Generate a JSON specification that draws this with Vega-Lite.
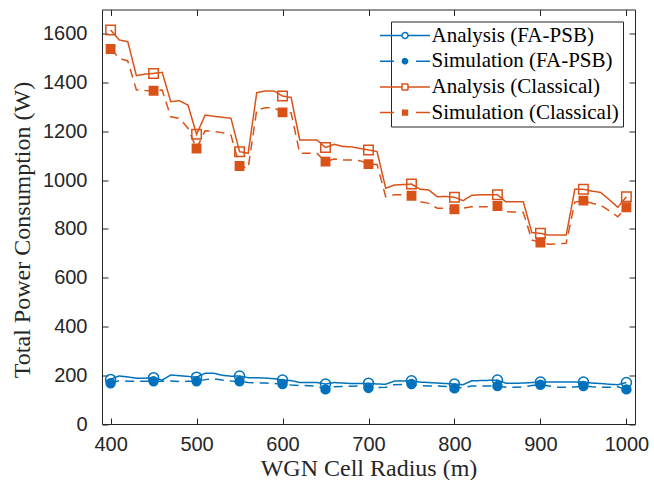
{
  "$schema": "https://vega.github.io/schema/vega-lite/v6.json",
  "width": 533,
  "height": 414.5,
  "autosize": {"type": "none"},
  "padding": {"left": 102, "top": 9.5, "right": 19, "bottom": 56},
  "background": "white",
  "config": {
    "view": {"stroke": "#262626", "strokeWidth": 1},
    "axis": {
      "grid": false,
      "domain": false,
      "tickColor": "#262626",
      "tickSize": -6,
      "tickWidth": 1,
      "labelFont": "Liberation Sans",
      "labelFontSize": 20,
      "labelColor": "#262626",
      "titleFont": "Liberation Serif",
      "titleFontSize": 24,
      "titleFontWeight": "normal",
      "titleColor": "#262626"
    },
    "legend": {
      "labelFont": "Liberation Serif",
      "labelFontSize": 21,
      "labelColor": "#000000",
      "strokeColor": "#262626",
      "fillColor": "white",
      "padding": 3.5,
      "rowPadding": 3.7,
      "symbolSize": 64,
      "labelOffset": 16,
      "labelLimit": 400
    }
  },
  "data": {
    "values": [
      {"r": 400, "Analysis (FA-PSB)": 183, "Simulation (FA-PSB)": 167, "Analysis (Classical)": 1616, "Simulation (Classical)": 1538},
      {"r": 410, "Analysis (FA-PSB)": 197, "Simulation (FA-PSB)": 178, "Analysis (Classical)": 1575, "Simulation (Classical)": 1500},
      {"r": 420, "Analysis (FA-PSB)": 193, "Simulation (FA-PSB)": 175, "Analysis (Classical)": 1568, "Simulation (Classical)": 1489},
      {"r": 430, "Analysis (FA-PSB)": 188, "Simulation (FA-PSB)": 175, "Analysis (Classical)": 1429, "Simulation (Classical)": 1370},
      {"r": 440, "Analysis (FA-PSB)": 188, "Simulation (FA-PSB)": 175, "Analysis (Classical)": 1435, "Simulation (Classical)": 1368},
      {"r": 450, "Analysis (FA-PSB)": 190, "Simulation (FA-PSB)": 175, "Analysis (Classical)": 1438, "Simulation (Classical)": 1367},
      {"r": 460, "Analysis (FA-PSB)": 180, "Simulation (FA-PSB)": 175, "Analysis (Classical)": 1442, "Simulation (Classical)": 1370},
      {"r": 470, "Analysis (FA-PSB)": 201, "Simulation (FA-PSB)": 176, "Analysis (Classical)": 1322, "Simulation (Classical)": 1260},
      {"r": 480, "Analysis (FA-PSB)": 198, "Simulation (FA-PSB)": 174, "Analysis (Classical)": 1326, "Simulation (Classical)": 1254},
      {"r": 490, "Analysis (FA-PSB)": 195, "Simulation (FA-PSB)": 175, "Analysis (Classical)": 1308, "Simulation (Classical)": 1213},
      {"r": 500, "Analysis (FA-PSB)": 192, "Simulation (FA-PSB)": 175, "Analysis (Classical)": 1188, "Simulation (Classical)": 1130},
      {"r": 510, "Analysis (FA-PSB)": 208, "Simulation (FA-PSB)": 182, "Analysis (Classical)": 1267, "Simulation (Classical)": 1203},
      {"r": 520, "Analysis (FA-PSB)": 208, "Simulation (FA-PSB)": 185, "Analysis (Classical)": 1262, "Simulation (Classical)": 1200},
      {"r": 530, "Analysis (FA-PSB)": 200, "Simulation (FA-PSB)": 180, "Analysis (Classical)": 1258, "Simulation (Classical)": 1195},
      {"r": 540, "Analysis (FA-PSB)": 196, "Simulation (FA-PSB)": 176, "Analysis (Classical)": 1254, "Simulation (Classical)": 1185},
      {"r": 550, "Analysis (FA-PSB)": 197, "Simulation (FA-PSB)": 175, "Analysis (Classical)": 1117, "Simulation (Classical)": 1058},
      {"r": 560, "Analysis (FA-PSB)": 190, "Simulation (FA-PSB)": 170, "Analysis (Classical)": 1110, "Simulation (Classical)": 1049},
      {"r": 570, "Analysis (FA-PSB)": 190, "Simulation (FA-PSB)": 168, "Analysis (Classical)": 1359, "Simulation (Classical)": 1288},
      {"r": 580, "Analysis (FA-PSB)": 188, "Simulation (FA-PSB)": 168, "Analysis (Classical)": 1366, "Simulation (Classical)": 1297},
      {"r": 590, "Analysis (FA-PSB)": 186, "Simulation (FA-PSB)": 166, "Analysis (Classical)": 1366, "Simulation (Classical)": 1297},
      {"r": 600, "Analysis (FA-PSB)": 180, "Simulation (FA-PSB)": 164, "Analysis (Classical)": 1345, "Simulation (Classical)": 1278},
      {"r": 610, "Analysis (FA-PSB)": 178, "Simulation (FA-PSB)": 160, "Analysis (Classical)": 1339, "Simulation (Classical)": 1276},
      {"r": 620, "Analysis (FA-PSB)": 170, "Simulation (FA-PSB)": 158, "Analysis (Classical)": 1165, "Simulation (Classical)": 1110},
      {"r": 630, "Analysis (FA-PSB)": 170, "Simulation (FA-PSB)": 157, "Analysis (Classical)": 1165, "Simulation (Classical)": 1110},
      {"r": 640, "Analysis (FA-PSB)": 170, "Simulation (FA-PSB)": 155, "Analysis (Classical)": 1165, "Simulation (Classical)": 1110},
      {"r": 650, "Analysis (FA-PSB)": 164, "Simulation (FA-PSB)": 142, "Analysis (Classical)": 1134, "Simulation (Classical)": 1076},
      {"r": 660, "Analysis (FA-PSB)": 170, "Simulation (FA-PSB)": 153, "Analysis (Classical)": 1147, "Simulation (Classical)": 1087},
      {"r": 670, "Analysis (FA-PSB)": 168, "Simulation (FA-PSB)": 154, "Analysis (Classical)": 1138, "Simulation (Classical)": 1083},
      {"r": 680, "Analysis (FA-PSB)": 166, "Simulation (FA-PSB)": 155, "Analysis (Classical)": 1137, "Simulation (Classical)": 1083},
      {"r": 690, "Analysis (FA-PSB)": 166, "Simulation (FA-PSB)": 156, "Analysis (Classical)": 1130, "Simulation (Classical)": 1080},
      {"r": 700, "Analysis (FA-PSB)": 167, "Simulation (FA-PSB)": 148, "Analysis (Classical)": 1124, "Simulation (Classical)": 1066},
      {"r": 710, "Analysis (FA-PSB)": 164, "Simulation (FA-PSB)": 149, "Analysis (Classical)": 1117, "Simulation (Classical)": 1064},
      {"r": 720, "Analysis (FA-PSB)": 163, "Simulation (FA-PSB)": 151, "Analysis (Classical)": 967, "Simulation (Classical)": 932},
      {"r": 730, "Analysis (FA-PSB)": 176, "Simulation (FA-PSB)": 161, "Analysis (Classical)": 980, "Simulation (Classical)": 940},
      {"r": 740, "Analysis (FA-PSB)": 176, "Simulation (FA-PSB)": 162, "Analysis (Classical)": 982, "Simulation (Classical)": 940},
      {"r": 750, "Analysis (FA-PSB)": 177, "Simulation (FA-PSB)": 164, "Analysis (Classical)": 984, "Simulation (Classical)": 936},
      {"r": 760, "Analysis (FA-PSB)": 172, "Simulation (FA-PSB)": 158, "Analysis (Classical)": 963, "Simulation (Classical)": 912},
      {"r": 770, "Analysis (FA-PSB)": 170, "Simulation (FA-PSB)": 156, "Analysis (Classical)": 960, "Simulation (Classical)": 905},
      {"r": 780, "Analysis (FA-PSB)": 168, "Simulation (FA-PSB)": 156, "Analysis (Classical)": 932, "Simulation (Classical)": 885},
      {"r": 790, "Analysis (FA-PSB)": 166, "Simulation (FA-PSB)": 154, "Analysis (Classical)": 933, "Simulation (Classical)": 885},
      {"r": 800, "Analysis (FA-PSB)": 164, "Simulation (FA-PSB)": 146, "Analysis (Classical)": 930, "Simulation (Classical)": 881},
      {"r": 810, "Analysis (FA-PSB)": 161, "Simulation (FA-PSB)": 150, "Analysis (Classical)": 916, "Simulation (Classical)": 885},
      {"r": 820, "Analysis (FA-PSB)": 177, "Simulation (FA-PSB)": 156, "Analysis (Classical)": 938, "Simulation (Classical)": 891},
      {"r": 830, "Analysis (FA-PSB)": 178, "Simulation (FA-PSB)": 156, "Analysis (Classical)": 940, "Simulation (Classical)": 891},
      {"r": 840, "Analysis (FA-PSB)": 179, "Simulation (FA-PSB)": 156, "Analysis (Classical)": 940, "Simulation (Classical)": 891},
      {"r": 850, "Analysis (FA-PSB)": 180, "Simulation (FA-PSB)": 156, "Analysis (Classical)": 940, "Simulation (Classical)": 894},
      {"r": 860, "Analysis (FA-PSB)": 167, "Simulation (FA-PSB)": 151, "Analysis (Classical)": 911, "Simulation (Classical)": 871},
      {"r": 870, "Analysis (FA-PSB)": 167, "Simulation (FA-PSB)": 151, "Analysis (Classical)": 912, "Simulation (Classical)": 869},
      {"r": 880, "Analysis (FA-PSB)": 168, "Simulation (FA-PSB)": 152, "Analysis (Classical)": 912, "Simulation (Classical)": 868},
      {"r": 890, "Analysis (FA-PSB)": 170, "Simulation (FA-PSB)": 158, "Analysis (Classical)": 785, "Simulation (Classical)": 755},
      {"r": 900, "Analysis (FA-PSB)": 172, "Simulation (FA-PSB)": 161, "Analysis (Classical)": 782, "Simulation (Classical)": 744},
      {"r": 910, "Analysis (FA-PSB)": 172, "Simulation (FA-PSB)": 156, "Analysis (Classical)": 775, "Simulation (Classical)": 737},
      {"r": 920, "Analysis (FA-PSB)": 172, "Simulation (FA-PSB)": 151, "Analysis (Classical)": 775, "Simulation (Classical)": 739},
      {"r": 930, "Analysis (FA-PSB)": 172, "Simulation (FA-PSB)": 151, "Analysis (Classical)": 775, "Simulation (Classical)": 741},
      {"r": 940, "Analysis (FA-PSB)": 172, "Simulation (FA-PSB)": 152, "Analysis (Classical)": 963, "Simulation (Classical)": 910},
      {"r": 950, "Analysis (FA-PSB)": 172, "Simulation (FA-PSB)": 156, "Analysis (Classical)": 963, "Simulation (Classical)": 916},
      {"r": 960, "Analysis (FA-PSB)": 168, "Simulation (FA-PSB)": 153, "Analysis (Classical)": 955, "Simulation (Classical)": 905},
      {"r": 970, "Analysis (FA-PSB)": 166, "Simulation (FA-PSB)": 151, "Analysis (Classical)": 950, "Simulation (Classical)": 898},
      {"r": 980, "Analysis (FA-PSB)": 163, "Simulation (FA-PSB)": 151, "Analysis (Classical)": 920, "Simulation (Classical)": 875},
      {"r": 990, "Analysis (FA-PSB)": 161, "Simulation (FA-PSB)": 153, "Analysis (Classical)": 889, "Simulation (Classical)": 850},
      {"r": 1000, "Analysis (FA-PSB)": 170, "Simulation (FA-PSB)": 142, "Analysis (Classical)": 932, "Simulation (Classical)": 889}
    ]
  },
  "transform": [
    {"fold": ["Analysis (FA-PSB)", "Simulation (FA-PSB)", "Analysis (Classical)", "Simulation (Classical)"], "as": ["series", "power"]}
  ],
  "layer": [
    {
      "mark": {"type": "line", "strokeWidth": 1.5},
      "encoding": {
        "x": {
          "field": "r", "type": "quantitative",
          "scale": {"domain": [390, 1010], "nice": false, "zero": false},
          "axis": {"orient": "bottom", "values": [400, 500, 600, 700, 800, 900, 1000], "format": "d", "title": "WGN Cell Radius (m)", "labelPadding": 16, "titlePadding": 2}
        },
        "y": {
          "field": "power", "type": "quantitative",
          "scale": {"domain": [0, 1700], "nice": false},
          "axis": {"orient": "left", "values": [0, 200, 400, 600, 800, 1000, 1200, 1400, 1600], "format": "d", "title": "Total Power Consumption (W)", "labelPadding": 21, "titlePadding": 8, "titleY": 220}
        },
        "color": {
          "field": "series", "type": "nominal",
          "scale": {"domain": ["Analysis (FA-PSB)", "Simulation (FA-PSB)", "Analysis (Classical)", "Simulation (Classical)"], "range": ["#0072BD", "#0072BD", "#D95319", "#D95319"]},
          "legend": {
            "title": null,
            "orient": "top-right",
            "offset": 12,
            "encode": {
              "symbols": {
                "update": {
                  "shape": {"signal": "datum.value === 'Analysis (FA-PSB)' ? 'M-6.25,0H-0.75M0.75,0H6.25M0.75,0A0.75,0.75,0,1,1,-0.75,0A0.75,0.75,0,1,1,0.75,0' : datum.value === 'Simulation (FA-PSB)' ? 'M-6.25,0H-2.75M2.75,0H6.25M0.65,0A0.65,0.65,0,1,1,-0.65,0A0.65,0.65,0,1,1,0.65,0' : datum.value === 'Analysis (Classical)' ? 'M-6.25,0H-0.75M0.75,0H6.25M-0.75,-0.75H0.75V0.75H-0.75Z' : 'M-6.25,0H-2.75M2.75,0H6.25M-0.6,-0.6H0.6V0.6H-0.6Z'"},
                  "stroke": {"signal": "indexof(datum.value, 'FA-PSB') > 0 ? '#0072BD' : '#D95319'"},
                  "fill": {"signal": "indexof(datum.value, 'Simulation') === 0 ? (indexof(datum.value, 'FA-PSB') > 0 ? '#0072BD' : '#D95319') : 'transparent'"},
                  "strokeDash": {"value": [1, 0]},
                  "strokeWidth": {"value": 1.5},
                  "opacity": {"value": 1},
                  "size": {"value": 64}
                }
              }
            }
          }
        },
        "strokeDash": {
          "field": "series", "type": "nominal",
          "scale": {"domain": ["Simulation (FA-PSB)", "Analysis (FA-PSB)", "Simulation (Classical)", "Analysis (Classical)"], "range": [[9, 6], [1, 0], [9, 6], [1, 0]]},
          "legend": null
        }
      }
    },
    {
      "transform": [{"filter": "datum.r % 50 === 0"}],
      "mark": {"type": "point", "strokeWidth": 1.5, "opacity": 1},
      "encoding": {
        "x": {
          "field": "r", "type": "quantitative",
          "axis": {"orient": "top", "values": [400, 500, 600, 700, 800, 900, 1000], "labels": false, "title": null}
        },
        "y": {
          "field": "power", "type": "quantitative",
          "axis": {"orient": "right", "values": [0, 200, 400, 600, 800, 1000, 1200, 1400, 1600], "labels": false, "title": null}
        },
        "color": {"field": "series", "type": "nominal", "legend": null},
        "shape": {
          "field": "series", "type": "nominal",
          "scale": {"domain": ["Analysis (Classical)", "Simulation (Classical)", "Analysis (FA-PSB)", "Simulation (FA-PSB)"], "range": ["square", "square", "circle", "circle"]},
          "legend": null
        },
        "fill": {
          "field": "series", "type": "nominal",
          "scale": {"domain": ["Simulation (Classical)", "Analysis (Classical)", "Simulation (FA-PSB)", "Analysis (FA-PSB)"], "range": ["#D95319", "transparent", "#0072BD", "transparent"]},
          "legend": null
        },
        "size": {
          "field": "series", "type": "nominal",
          "scale": {"domain": ["Analysis (FA-PSB)", "Analysis (Classical)", "Simulation (FA-PSB)", "Simulation (Classical)"], "range": [100, 70, 60, 36]},
          "legend": null
        }
      }
    }
  ],
  "resolve": {"axis": {"x": "independent", "y": "independent"}}
}
